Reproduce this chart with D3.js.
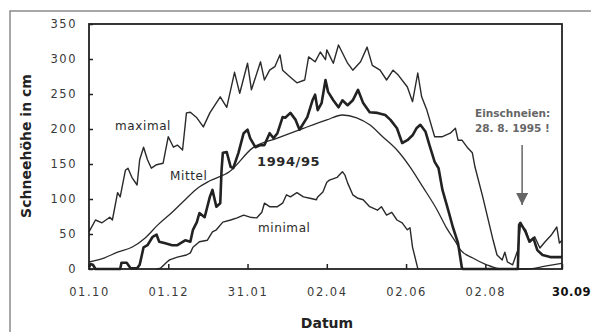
<!DOCTYPE html>
<html>
<head>
<meta charset="utf-8">
<script src="https://cdn.jsdelivr.net/npm/d3@7"></script>
<style>
  body { margin: 0; background: #fff; }
  svg { display: block; font-family: "DejaVu Sans", Verdana, sans-serif; }
</style>
</head>
<body>
<svg id="chart" width="591" height="332"></svg>
<script>
// days since 01.10 -> snow depth (cm)
const maxDays = [0,5,10,16,18,22,24,28,30,33,37,39,42,45,48,52,57,61,65,68,72,75,78,83,88,93,101,106,112,116,122,125,132,135,139,143,147,149,155,160,166,169,174,178,182,183,188,192,199,203,209,214,218,224,229,234,238,245,249,253,256,260,266,272,278,282,284,287,291,295,297,303,311,314,318,320,322,326,330,332,336,339,343,347,351,356,360,362,364];
const maxVals = [53,70,66,74,70,109,103,141,144,131,120,156,174,156,144,149,151,189,174,177,170,223,224,216,203,223,246,231,281,251,294,256,296,270,284,289,306,284,274,266,270,303,296,310,299,313,294,320,294,284,296,317,291,284,270,284,277,260,239,280,246,227,189,189,194,201,184,184,174,166,146,103,41,20,13,24,10,6,27,63,56,39,46,30,39,49,60,37,41];

const yearDays = [0,1.5,3,5,24,25,29,32,37,39,42,45,49,52,54,58,64,68,74,78,80,83,85,89,93,95,98,101,102,103,106,109,111,115,119,122,124,128,132,135,139,142,145,149,151,155,159,162,168,172,174,176,179,182,184,188,192,195,199,203,207,211,216,222,228,232,237,241,245,249,252,255,259,262,266,269,272,276,280,284,287,288,330,331,332,336,339,342,345,349,355,364];
const yearVals = [3,7,6,0,0,9,9,1,1,6,31,34,46,49,39,37,34,34,41,39,56,67,80,74,103,113,89,94,141,166,167,146,144,166,194,199,187,174,177,177,194,187,194,217,216,223,213,199,217,241,249,227,237,270,253,241,231,241,234,241,256,237,224,223,220,213,201,180,184,191,201,206,196,177,153,144,113,87,60,37,1,0,0,63,66,53,39,44,27,20,17,17];

const meanDays = [0,12,22,33,43,53,64,74,84,93,108,126,145,165,183,195,206,216,226,237,247,257,268,275,282,286,295,306,314,320,337,351,364];
const meanVals = [10,16,24,31,44,63,81,99,116,126,139,173,187,201,213,220,216,206,189,170,146,117,84,59,39,27,16,6,1,0,0,4,8];

const minDays = [52,55,60,62,68,75,78,80,85,91,95,98,103,109,114,119,124,129,133,135,139,145,149,152,155,160,165,170,175,176,180,183,185,191,195,197,199,203,207,211,216,222,225,229,233,237,241,245,247,249,253,254];
const minVals = [0,1,10,13,17,20,23,31,39,41,53,56,67,70,73,77,74,73,81,94,89,89,94,106,103,109,103,101,99,103,110,124,127,131,139,134,123,106,101,99,89,84,89,77,81,70,66,56,59,31,1,0];

const tickDays = [0, 61, 122, 183, 244, 305, 364];
const tickLabels = ['01.10', '01.12', '31.01', '02.04', '02.06', '02.08', '30.09'];
const yTicks = [0, 50, 100, 150, 200, 250, 300, 350];

const zip = (ds, vs) => ds.map((d, i) => ({ d, v: vs[i] }));

const svg = d3.select('#chart');
const plot = { left: 89, top: 24, right: 562, bottom: 269 };

const x = d3.scaleLinear().domain([0, 364]).range([plot.left, plot.right]);
const y = d3.scaleLinear().domain([0, 350]).range([plot.bottom, plot.top]);

// outer frame
svg.append('rect')
  .attr('x', 10).attr('y', 11).attr('width', 620).attr('height', 400)
  .attr('fill', 'none').attr('stroke', '#8a8a8a').attr('stroke-width', 1.5);

// series
const line = d3.line().x((p) => x(p.d)).y((p) => y(p.v));
const smooth = d3.line().x((p) => x(p.d)).y((p) => y(p.v)).curve(d3.curveMonotoneX);

const g = svg.append('g');
g.append('path').datum(zip(meanDays, meanVals)).attr('d', smooth)
  .attr('fill', 'none').attr('stroke', '#2a2a2a').attr('stroke-width', 1.3);
g.append('path').datum(zip(minDays, minVals)).attr('d', line)
  .attr('fill', 'none').attr('stroke', '#2a2a2a').attr('stroke-width', 1.4).attr('stroke-linejoin', 'round');
g.append('path').datum(zip(maxDays, maxVals)).attr('d', line)
  .attr('fill', 'none').attr('stroke', '#2a2a2a').attr('stroke-width', 1.4).attr('stroke-linejoin', 'round');
g.append('path').datum(zip(yearDays, yearVals)).attr('d', line)
  .attr('fill', 'none').attr('stroke', '#222').attr('stroke-width', 2.6).attr('stroke-linejoin', 'round');

// plot box
svg.append('rect')
  .attr('x', plot.left).attr('y', plot.top)
  .attr('width', plot.right - plot.left).attr('height', plot.bottom - plot.top)
  .attr('fill', 'none').attr('stroke', '#222').attr('stroke-width', 1.8);

// axes
const yAxis = svg.append('g')
  .attr('transform', `translate(${plot.left},0)`)
  .call(d3.axisLeft(y).tickValues(yTicks).tickSizeInner(-4).tickSizeOuter(0).tickPadding(12));
const xAxis = svg.append('g')
  .attr('transform', `translate(0,${plot.bottom})`)
  .call(d3.axisBottom(x).tickValues(tickDays).tickFormat((d, i) => tickLabels[i])
    .tickSizeInner(-5).tickSizeOuter(0).tickPadding(19));

[yAxis, xAxis].forEach((a) => {
  a.select('.domain').remove();
  a.selectAll('line').attr('stroke', '#222').attr('stroke-width', 1.5);
  a.selectAll('text')
    .attr('fill', '#3a3a3a')
    .style('font-family', '"DejaVu Sans", Verdana, sans-serif')
    .style('font-size', '11.5px')
    .style('letter-spacing', '1.5px');
});
xAxis.selectAll('.tick').filter((d) => d === 364).select('text')
  .attr('dx', 9).attr('fill', '#111').style('font-weight', 'bold').style('letter-spacing', '0.5px');

// axis titles
svg.append('text')
  .attr('transform', 'translate(31,146) rotate(-90)')
  .attr('text-anchor', 'middle')
  .attr('fill', '#222').style('font-weight', 'bold').style('font-size', '14px')
  .text('Schneehöhe in cm');
svg.append('text')
  .attr('x', 327).attr('y', 328)
  .attr('text-anchor', 'middle')
  .attr('fill', '#222').style('font-weight', 'bold').style('font-size', '14px')
  .text('Datum');

// series labels
const labels = [
  { t: 'maximal', x: 115, y: 130, w: 'normal', s: 12 },
  { t: 'Mittel', x: 170, y: 180, w: 'normal', s: 12 },
  { t: '1994/95', x: 257, y: 166, w: 'bold', s: 13 },
  { t: 'minimal', x: 258, y: 232, w: 'normal', s: 12 }
];
svg.selectAll('.lbl').data(labels).enter().append('text')
  .attr('class', 'lbl')
  .attr('x', (d) => d.x).attr('y', (d) => d.y)
  .attr('fill', '#2a2a2a')
  .style('font-weight', (d) => d.w).style('font-size', (d) => `${d.s}px`)
  .style('letter-spacing', '0.6px')
  .text((d) => d.t);

// annotation
svg.append('text').attr('x', 475).attr('y', 117)
  .attr('fill', '#666').style('font-weight', 'bold').style('font-size', '10.5px')
  .text('Einschneien:');
svg.append('text').attr('x', 475).attr('y', 132)
  .attr('fill', '#666').style('font-weight', 'bold').style('font-size', '10.5px')
  .text('28. 8. 1995 !');

svg.append('defs').append('marker')
  .attr('id', 'arrowhead')
  .attr('viewBox', '0 -5 10 10')
  .attr('refX', 10).attr('refY', 0)
  .attr('orient', 'auto')
  .attr('markerUnits', 'userSpaceOnUse')
  .attr('markerWidth', 12).attr('markerHeight', 12)
  .append('path')
  .attr('d', 'M 0,-5 L 10,0 L 0,5 Z')
  .attr('fill', '#666');

svg.append('line')
  .attr('x1', x(331) + 3).attr('x2', x(331) + 3)
  .attr('y1', 145).attr('y2', 205)
  .attr('stroke', '#666').attr('stroke-width', 1.5)
  .attr('marker-end', 'url(#arrowhead)');
</script>
</body>
</html>
